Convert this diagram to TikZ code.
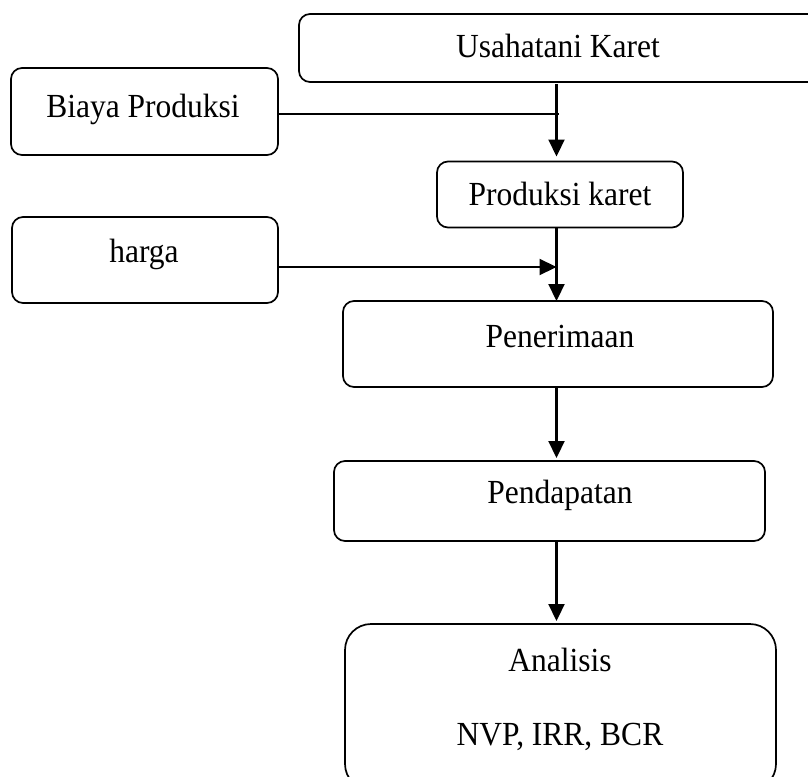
\documentclass[tikz,border=0pt]{standalone}
\usepackage{fontspec}
\setmainfont{Liberation Serif}
\usetikzlibrary{arrows.meta}
\newcommand{\tallt}[1]{\scalebox{1}[1.07]{#1}}
\begin{document}
\begin{tikzpicture}[x=1pt,y=-1pt,
  box/.style={draw, line width=1.7pt, rounded corners=11pt, inner sep=0pt, outer sep=0pt},
  lbl/.style={font=\fontsize{31.5}{36}\selectfont, anchor=base, inner sep=0pt},
  arr/.style={line width=2.2pt, -{Triangle[width=16pt,length=17pt]}},
  thinline/.style={line width=1.3pt}]
\useasboundingbox (0,0) rectangle (808,776);
\clip (0,0) rectangle (808,776);
% boxes
\node[box, minimum width=531pt, minimum height=68pt] (usaha) at (564.5,48) {};
\node[box, minimum width=267pt, minimum height=87pt] (biaya) at (144.5,111.5) {};
\node[box, minimum width=246pt, minimum height=66pt] (prod) at (560,194.5) {};
\node[box, minimum width=266pt, minimum height=86pt] (harga) at (145,260) {};
\node[box, minimum width=430pt, minimum height=86pt] (pener) at (558,344) {};
\node[box, minimum width=431pt, minimum height=80pt] (penda) at (549.5,501) {};
\node[box, rounded corners=26pt, minimum width=431pt, minimum height=166pt] (anal) at (560.5,707) {};
% labels
\node[lbl] (tusaha) at (558,57) {\tallt{Usahatani Karet}};
\node[lbl] (tbiaya) at (143,117) {\tallt{Biaya Produksi}};
\node[lbl] (tprod) at (560,205) {\tallt{Produksi karet}};
\node[lbl] (tharga) at (144,262) {\tallt{harga}};
\node[lbl] (tpener) at (560,347) {\tallt{Penerimaan}};
\node[lbl] (tpenda) at (560,503) {\tallt{Pendapatan}};
\node[lbl] (tanal1) at (560,671) {\tallt{Analisis}};
\node[lbl] (tanal2) at (560,745) {\tallt{NVP, IRR, BCR}};
% connectors
\coordinate (ax) at (556.5,0);
\coordinate (bj) at (559,114);
\coordinate (hj) at (556.5,267);
\draw[thinline] (biaya.east |- bj) -- (bj);
\draw[arr, shorten >=5pt, shorten <=2pt] (usaha.south -| ax) -- (prod.north -| ax);
\draw[arr] (harga.east |- hj) -- (hj);
\draw[arr] (prod.south -| ax) -- (pener.north -| ax);
\draw[arr, shorten >=3pt] (pener.south -| ax) -- (penda.north -| ax);
\draw[arr, shorten >=3pt] (penda.south -| ax) -- (anal.north -| ax);
\end{tikzpicture}
\end{document}
